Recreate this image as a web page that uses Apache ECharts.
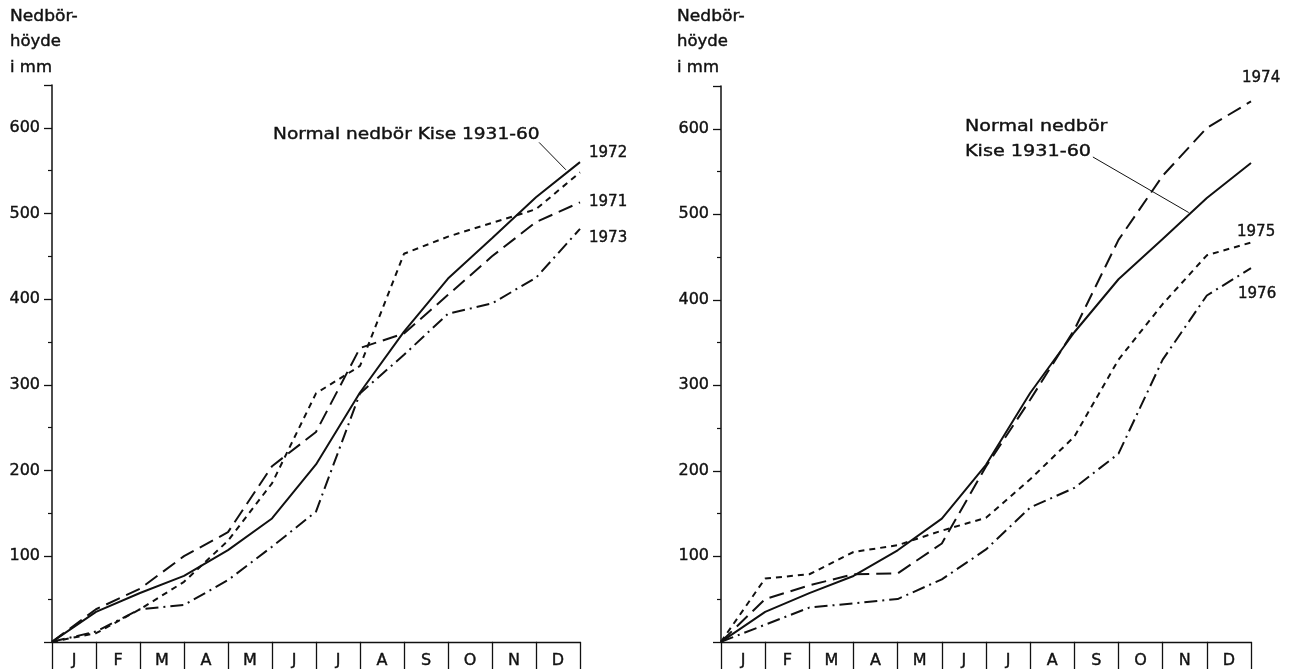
<!DOCTYPE html>
<html>
<head>
<meta charset="utf-8">
<script src="https://cdn.jsdelivr.net/npm/echarts@6/dist/echarts.min.js"></script>
<style>
html,body{margin:0;padding:0;background:#fff;}
#chart{width:1297px;height:669px;}
</style>
</head>
<body>
<div id="chart"></div>
<script>
// ---- data (cumulative precipitation, mm, at end of each month; first value = start of January) ----
const months = ['J','F','M','A','M','J','J','A','S','O','N','D'];
const yTicks = [100, 200, 300, 400, 500, 600];
const normal = [0, 35, 57, 77, 107, 144, 207, 291, 362, 424, 471, 519, 560];
const y1971 = [0, 38, 62, 100, 128, 205, 245, 343, 360, 405, 450, 490, 513];
const y1972 = [0, 10, 38, 70, 118, 185, 290, 322, 453, 473, 489, 505, 548];
const y1973 = [0, 12, 38, 43, 72, 111, 152, 290, 335, 383, 395, 425, 482];
const y1974 = [0, 50, 66, 79, 80, 115, 205, 283, 365, 470, 545, 601, 632];
const y1975 = [0, 74, 79, 105, 113, 130, 145, 190, 240, 330, 395, 452, 467];
const y1976 = [0, 20, 40, 45, 50, 73, 108, 157, 180, 220, 330, 405, 437];
const axisTitle = ['Nedbör-', 'höyde', 'i mm'];

const pts = arr => arr.map((v, i) => [i, v]);
const FONT = '"DejaVu Sans", sans-serif';
const INK = '#111';
const HEAVY = 0.4;

const chart = echarts.init(document.getElementById('chart'));

const grids = [
  {left: 52, top: 85, width: 528, height: 557},
  {left: 721, top: 86, width: 530, height: 559}
];

function yAxis(gi) {
  return {
    type: 'value', gridIndex: gi, min: 0, max: 650, interval: 100,
    axisLine: {show: true, lineStyle: {color: INK, width: 1.5}},
    axisTick: {show: true, length: 8, lineStyle: {color: INK, width: 1.3}},
    minorTick: {show: true, splitNumber: 2, length: 4, lineStyle: {color: INK, width: 1.2}},
    splitLine: {show: false},
    axisLabel: {
      margin: 12, color: INK, fontFamily: FONT, fontSize: 16,
      textBorderColor: INK, textBorderWidth: HEAVY,
      formatter: v => (yTicks.indexOf(v) >= 0 ? String(v) : '')
    }
  };
}
function xValAxis(gi) {
  return {type: 'value', gridIndex: gi, min: 0, max: 12, show: false};
}
function xCatAxis(gi) {
  return {
    type: 'category', gridIndex: gi, data: months, boundaryGap: true, position: 'bottom',
    axisLine: {show: true, onZero: false, lineStyle: {color: INK, width: 1.3}},
    axisTick: {show: true, interval: 0, length: 30, lineStyle: {color: INK, width: 1.3}},
    axisLabel: {interval: 0, margin: 11, color: INK, fontFamily: FONT, fontSize: 16,
      textBorderColor: INK, textBorderWidth: HEAVY}
  };
}

function line(name, data, xi, yi, type) {
  return {
    name, type: 'line', xAxisIndex: xi, yAxisIndex: yi, data: pts(data),
    symbol: 'none', silent: true, animation: false,
    lineStyle: {color: INK, width: 2, type: type, cap: 'butt'}
  };
}

const LONG = [15, 7];
const SHORT = [6, 5];
const DASHDOT = [13, 5, 2, 5];

const sNormL = line('Normal', normal, 0, 0, 'solid');
sNormL.markLine = {
  symbol: 'none', silent: true, animation: false, label: {show: false},
  lineStyle: {color: INK, width: 1, type: 'solid'},
  data: [[{coord: [11.07, 583]}, {coord: [11.68, 551]}]]
};
const sNormR = line('Normal', normal, 2, 1, 'solid');
sNormR.markLine = {
  symbol: 'none', silent: true, animation: false, label: {show: false},
  lineStyle: {color: INK, width: 1, type: 'solid'},
  data: [[{coord: [8.42, 567]}, {coord: [10.59, 502]}]]
};

function txt(x, y, s, size, sx) {
  return {
    type: 'text', x: x, y: y, scaleX: sx || 1, silent: true,
    style: {text: s, fill: INK, stroke: INK, lineWidth: HEAVY,
      font: (size || 15) + 'px ' + FONT, textVerticalAlign: 'middle', textAlign: 'left'}
  };
}

chart.setOption({
  backgroundColor: '#fff',
  animation: false,
  grid: grids,
  xAxis: [xValAxis(0), xCatAxis(0), xValAxis(1), xCatAxis(1)],
  yAxis: [yAxis(0), yAxis(1)],
  series: [
    sNormL,
    line('1971', y1971, 0, 0, LONG),
    line('1972', y1972, 0, 0, SHORT),
    line('1973', y1973, 0, 0, DASHDOT),
    sNormR,
    line('1974', y1974, 2, 1, LONG),
    line('1975', y1975, 2, 1, SHORT),
    line('1976', y1976, 2, 1, DASHDOT)
  ],
  graphic: [
    txt(10, 17, axisTitle[0], 15, 1.14),
    txt(10, 42, axisTitle[1], 15, 1.1),
    txt(10, 68, axisTitle[2], 15, 1.1),
    txt(677, 17, axisTitle[0], 15, 1.14),
    txt(677, 42, axisTitle[1], 15, 1.1),
    txt(677, 68, axisTitle[2], 15, 1.1),
    txt(273, 135, 'Normal nedbör Kise 1931-60', 16, 1.16),
    txt(589, 153, '1972', 15),
    txt(589, 202, '1971', 15),
    txt(589, 238, '1973', 15),
    txt(1242, 78, '1974', 15),
    txt(965, 127, 'Normal nedbör', 16, 1.19),
    txt(965, 152, 'Kise 1931-60', 16, 1.2),
    txt(1237, 232, '1975', 15),
    txt(1238, 294, '1976', 15)
  ]
});
</script>
</body>
</html>
